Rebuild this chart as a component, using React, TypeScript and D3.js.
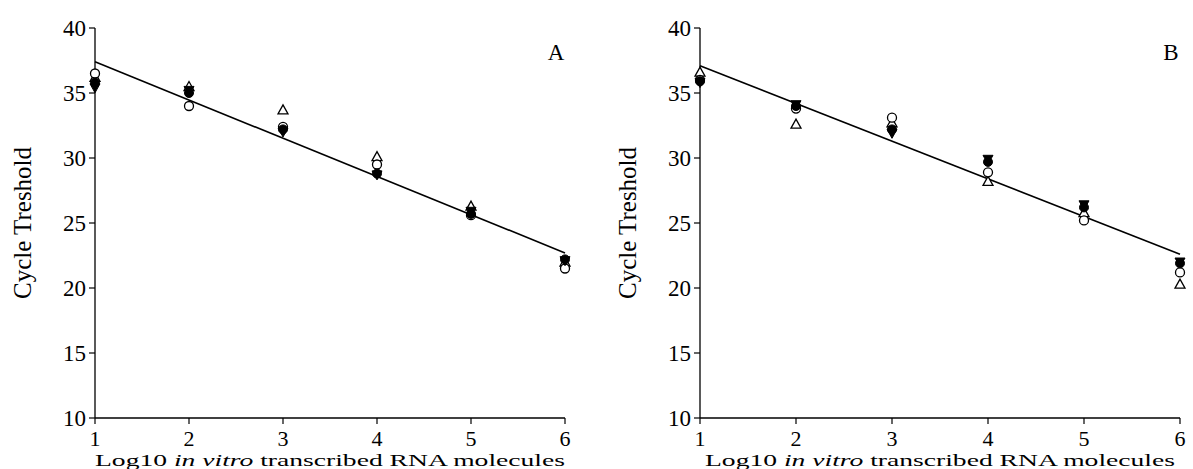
import React from "react";
import * as d3 from "d3";

const xTicks = [1, 2, 3, 4, 5, 6];
const yTicks = [10, 15, 20, 25, 30, 35, 40];

// Panel A series (x = log10 copies)
const aFilledCircle = [35.8, 35.0, 32.2, 28.8, 25.7, 22.2];
const aOpenCircle = [36.5, 34.0, 32.4, 29.5, 25.6, 21.5];
const aFilledTriDown = [35.4, 35.2, 32.0, 28.7, 25.9, 22.1];
const aOpenTri = [36.2, 35.5, 33.7, 30.1, 26.3, 22.0];
const aFit = [37.4, 22.7];

// Panel B series
const bFilledCircle = [35.9, 34.0, 32.2, 29.7, 26.2, 21.9];
const bOpenCircle = [36.0, 33.8, 33.1, 28.9, 25.2, 21.2];
const bFilledTriDown = [35.8, 34.1, 31.9, 29.9, 26.4, 22.0];
const bOpenTri = [36.6, 32.6, 32.7, 28.2, 25.8, 20.3];
const bFit = [37.1, 22.6];

const font = "'Liberation Serif', 'Times New Roman', serif";

type PanelProps = {
  x0: number; x1: number; label: string;
  fc: number[]; oc: number[]; ftd: number[]; ot: number[]; fit: number[];
};

function Marker({ kind, cx, cy }: { kind: string; cx: number; cy: number }) {
  const r = 4.5;
  if (kind === "fc") return <circle cx={cx} cy={cy} r={r} fill="#000" stroke="#000" />;
  if (kind === "oc") return <circle cx={cx} cy={cy} r={r} fill="#fff" stroke="#000" strokeWidth={1.3} />;
  if (kind === "ftd") {
    const p = `${cx - 5},${cy - 4} ${cx + 5},${cy - 4} ${cx},${cy + 5}`;
    return <polygon points={p} fill="#000" stroke="#000" />;
  }
  const p = `${cx - 5},${cy + 4} ${cx + 5},${cy + 4} ${cx},${cy - 5}`;
  return <polygon points={p} fill="#fff" stroke="#000" strokeWidth={1.3} />;
}

function Panel({ x0, x1, label, fc, oc, ftd, ot, fit }: PanelProps) {
  const x = d3.scaleLinear().domain([1, 6]).range([x0, x1]);
  const y = d3.scaleLinear().domain([10, 40]).range([418, 28]);
  const series: [string, number[]][] = [["ot", ot], ["oc", oc], ["ftd", ftd], ["fc", fc]];
  const line = d3.line<[number, number]>().x((d) => x(d[0])).y((d) => y(d[1]));
  return (
    <g>
      <line x1={x0} x2={x0} y1={y(40)} y2={y(10)} stroke="#000" strokeWidth={1.3} />
      <line x1={x0} x2={x1} y1={y(10)} y2={y(10)} stroke="#000" strokeWidth={1.3} />
      {yTicks.map((t) => (
        <g key={t}>
          <line x1={x0 - 6} x2={x0} y1={y(t)} y2={y(t)} stroke="#000" strokeWidth={1.2} />
          <text x={x0 - 9} y={y(t)} dy="0.35em" textAnchor="end" fontFamily={font} fontSize={23}>{t}</text>
        </g>
      ))}
      {xTicks.map((t) => (
        <g key={t}>
          <line x1={x(t)} x2={x(t)} y1={y(10)} y2={y(10) + 6} stroke="#000" strokeWidth={1.2} />
          <text x={x(t)} y={y(10) + 28} textAnchor="middle" fontFamily={font} fontSize={22}>{t}</text>
        </g>
      ))}
      <path d={line([[1, fit[0]], [6, fit[1]]]) || ""} stroke="#000" strokeWidth={1.6} fill="none" />
      {series.map(([k, vals]) =>
        vals.map((v, i) => <Marker key={k + i} kind={k} cx={x(xTicks[i])} cy={y(v)} />)
      )}
      <text x={x1 - 9} y={60} textAnchor="middle" fontFamily={font} fontSize={23}>{label}</text>
      <text x={(x0 + x1) / 2} y={466} textAnchor="middle" fontFamily={font} fontSize={17}
        textLength={470} lengthAdjust="spacingAndGlyphs">
        Log10 <tspan fontStyle="italic">in vitro</tspan> transcribed RNA molecules
      </text>
      <text transform={`translate(${x0 - 64},${y(25)}) rotate(-90)`} textAnchor="middle" fontFamily={font} fontSize={25}>
        Cycle Treshold
      </text>
    </g>
  );
}

export default function App() {
  return (
    <svg width={1193} height={469} style={{ position: "absolute", left: 0, top: 0, background: "#fff" }}>
      <rect width={1193} height={469} fill="#fff" />
      <Panel x0={95} x1={565} label="A" fc={aFilledCircle} oc={aOpenCircle} ftd={aFilledTriDown} ot={aOpenTri} fit={aFit} />
      <Panel x0={700} x1={1180} label="B" fc={bFilledCircle} oc={bOpenCircle} ftd={bFilledTriDown} ot={bOpenTri} fit={bFit} />
    </svg>
  );
}
